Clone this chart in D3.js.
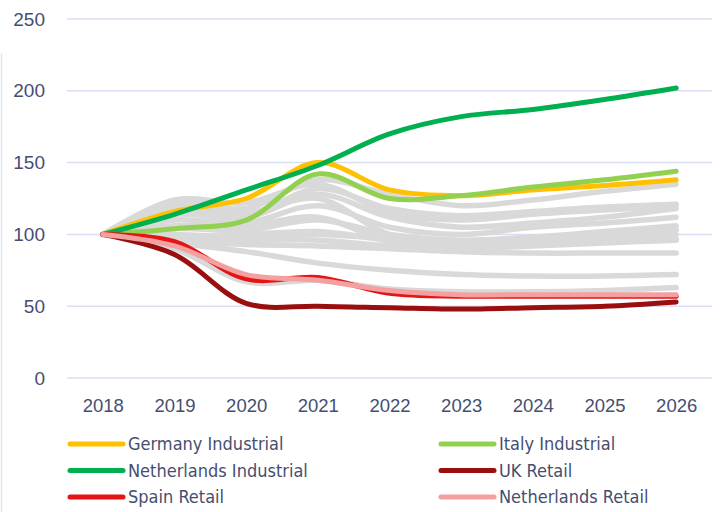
<!DOCTYPE html>
<html>
<head>
<meta charset="utf-8">
<script src="https://cdn.jsdelivr.net/npm/d3@7"></script>
<style>
  body { margin: 0; background: #fff; }
  svg { display: block; font-family: "DejaVu Sans Condensed", "DejaVu Sans", sans-serif; }
</style>
</head>
<body>
<div id="chart"></div>
<script>
const width = 720, height = 512;
const margin = {top: 19, right: 8, bottom: 134, left: 67};

const years = ["2018", "2019", "2020", "2021", "2022", "2023", "2024", "2025", "2026"];
const yTicks = [0, 50, 100, 150, 200, 250];

// highlighted series
const germanyIndustrial = [100, 116, 125, 150, 131, 127, 131, 134, 138];
const italyIndustrial = [100, 104, 110, 142, 125, 127, 133, 138, 144];
const netherlandsIndustrial = [100, 114, 131, 148, 170, 182, 187, 194, 202];
const ukRetail = [100, 86, 52, 50, 49, 48, 49, 50, 53];
const spainRetail = [100, 95, 69, 70, 59, 57, 57, 57, 57];
const netherlandsRetail = [100, 92, 72, 68, 61, 58, 58, 58, 58];

// background series (grey)
const others = [
  [100, 122, 118, 138, 128, 120, 124, 130, 135],
  [100, 124, 122, 135, 115, 110, 114, 117, 120],
  [100, 118, 112, 128, 112, 105, 108, 112, 118],
  [100, 110, 108, 120, 105, 100, 105, 108, 112],
  [100, 104, 103, 110, 100, 96, 98, 100, 103],
  [100, 100, 98, 100, 97, 95, 96, 98, 100],
  [100, 98, 96, 96, 92, 90, 92, 94, 96],
  [100, 96, 93, 92, 90, 88, 87, 87, 87],
  [100, 94, 88, 80, 75, 72, 71, 71, 72],
  [100, 90, 67, 68, 62, 60, 60, 61, 63],
  [100, 106, 106, 112, 95, 92, 95, 99, 103],
  [100, 120, 115, 125, 100, 95, 98, 102, 106],
  [100, 98, 100, 102, 96, 93, 94, 95, 97],
  [100, 114, 112, 132, 118, 113, 116, 119, 121]
];

const highlighted = [
  {name: "Germany Industrial", values: germanyIndustrial, color: "#FFC000"},
  {name: "Italy Industrial", values: italyIndustrial, color: "#92D050"},
  {name: "Netherlands Industrial", values: netherlandsIndustrial, color: "#00B050"},
  {name: "UK Retail", values: ukRetail, color: "#990F0F"},
  {name: "Spain Retail", values: spainRetail, color: "#E31515"},
  {name: "Netherlands Retail", values: netherlandsRetail, color: "#F4A0A0"}
];

const textColor = "#464e70";
const gridColor = "#d9def2";

const svg = d3.select("#chart").append("svg")
    .attr("width", width)
    .attr("height", height);

// faint frame line on the left edge
svg.append("line")
    .attr("x1", 1.5).attr("x2", 1.5)
    .attr("y1", 53).attr("y2", height)
    .style("stroke", "#e3e8f3")
    .style("stroke-width", 1.5);

const x = d3.scalePoint()
    .domain(years)
    .range([margin.left, width - margin.right])
    .padding(0.5);

const y = d3.scaleLinear()
    .domain([0, 250])
    .range([height - margin.bottom, margin.top]);

// gridlines
svg.append("g")
    .selectAll("line")
    .data(yTicks)
    .enter().append("line")
    .attr("x1", margin.left)
    .attr("x2", width - margin.right)
    .attr("y1", d => y(d))
    .attr("y2", d => y(d))
    .style("stroke", gridColor)
    .style("stroke-width", 1.5);

// y axis labels
const yAxis = d3.axisLeft(y).tickValues(yTicks).tickSize(0).tickPadding(0);
svg.append("g")
    .attr("transform", "translate(45,0)")
    .call(yAxis)
    .call(g => g.select(".domain").remove())
    .selectAll("text")
    .style("font-size", "19px")
    .style("font-family", "inherit")
    .style("fill", textColor);

// x axis labels
const xAxis = d3.axisBottom(x).tickSize(0).tickPadding(0);
svg.append("g")
    .attr("transform", "translate(0," + (y(0) + 21) + ")")
    .call(xAxis)
    .call(g => g.select(".domain").remove())
    .selectAll("text")
    .style("font-size", "18.5px")
    .style("font-family", "inherit")
    .style("fill", textColor);

const line = d3.line()
    .x((d, i) => x(years[i]))
    .y(d => y(d))
    .curve(d3.curveCatmullRom.alpha(0.5));

svg.append("g")
    .selectAll("path")
    .data(others)
    .enter().append("path")
    .attr("d", line)
    .style("fill", "none")
    .style("stroke", "#d9d9d9")
    .style("stroke-width", 5.5)
    .style("stroke-linecap", "round");

svg.append("g")
    .selectAll("path")
    .data(highlighted)
    .enter().append("path")
    .attr("d", d => line(d.values))
    .style("fill", "none")
    .style("stroke", d => d.color)
    .style("stroke-width", 5)
    .style("stroke-linecap", "round");

// legend, two columns
const legend = svg.append("g");
const legendItem = legend.selectAll("g")
    .data(highlighted)
    .enter().append("g")
    .attr("transform", (d, i) => "translate(" + (i % 2 === 0 ? 70 : 441) + "," + (444 + Math.floor(i / 2) * 26.5) + ")");

legendItem.append("line")
    .attr("x1", 0).attr("x2", 53)
    .attr("y1", 0).attr("y2", 0)
    .style("stroke", d => d.color)
    .style("stroke-width", 5)
    .style("stroke-linecap", "round");

legendItem.append("text")
    .attr("x", 58)
    .attr("y", 0)
    .attr("dy", "0.35em")
    .style("font-size", "18px")
    .style("fill", textColor)
    .text(d => d.name);
</script>
</body>
</html>
